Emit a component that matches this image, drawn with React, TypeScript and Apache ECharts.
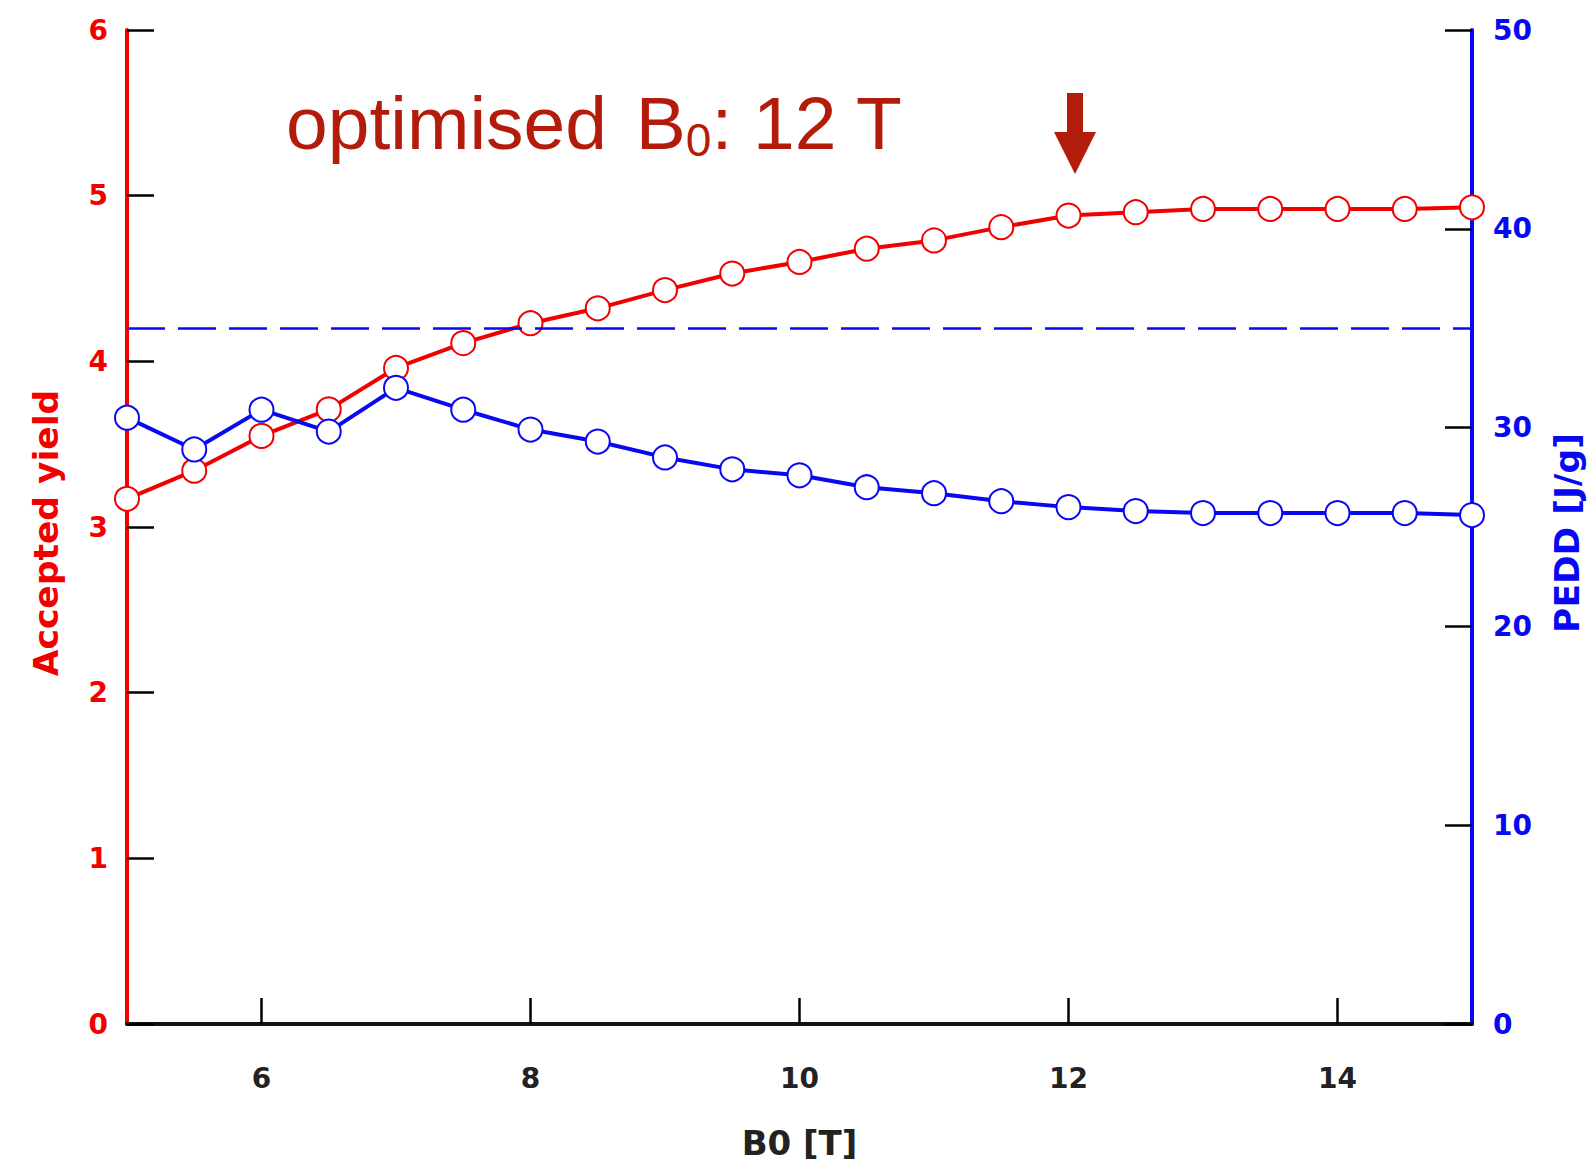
import React, { useEffect, useRef } from "react";
import * as echarts from "echarts";

const bField = [5, 5.5, 6, 6.5, 7, 7.5, 8, 8.5, 9, 9.5, 10, 10.5, 11, 11.5, 12, 12.5, 13, 13.5, 14, 14.5, 15];
const acceptedYield = [3.17, 3.34, 3.55, 3.71, 3.96, 4.11, 4.23, 4.32, 4.43, 4.53, 4.6, 4.68, 4.73, 4.81, 4.88, 4.9, 4.92, 4.92, 4.92, 4.92, 4.93];
const pedd = [30.5, 28.9, 30.9, 29.8, 32.0, 30.9, 29.9, 29.3, 28.5, 27.9, 27.6, 27.0, 26.7, 26.3, 26.0, 25.8, 25.7, 25.7, 25.7, 25.7, 25.6];
const peddLimit = 35;
const xTickValues = [6, 8, 10, 12, 14];

const RED = "#f20000";
const BLUE = "#0808f2";
const DARKRED = "#b31b0b";
const LABEL_FONT = "DejaVu Sans";
const W = 1588;
const H = 1163;

export default function App() {
  const ref = useRef<HTMLDivElement>(null);
  useEffect(() => {
    if (!ref.current) return;
    document.body.style.margin = "0";
    const chart = echarts.init(ref.current, undefined, { renderer: "svg", width: W, height: H });
    const redData = bField.map((x, i) => [x, acceptedYield[i]]);
    const blueData = bField.map((x, i) => [x, pedd[i]]);
    chart.setOption({
      animation: false,
      backgroundColor: "#ffffff",
      title: {
        text: "optimised {b|B}{sub|0}: 12 T",
        left: 286,
        top: 83,
        padding: 0,
        textStyle: {
          fontFamily: "Liberation Sans",
          fontSize: 75,
          fontWeight: "normal",
          color: DARKRED,
          lineHeight: 80,
          rich: {
            b: {
              fontFamily: "Liberation Sans",
              fontSize: 75,
              color: DARKRED,
              lineHeight: 80,
              padding: [0, 0, 0, 8],
            },
            sub: {
              fontFamily: "Liberation Sans",
              fontSize: 46,
              color: DARKRED,
              verticalAlign: "bottom",
              lineHeight: 50,
            },
          },
        },
      },
      grid: { left: 127, right: 116, top: 30, bottom: 139, containLabel: false, outerBoundsMode: "none" },
      xAxis: {
        type: "value",
        min: 5,
        max: 15,
        name: "B0 [T]",
        nameLocation: "middle",
        nameGap: 102,
        nameTextStyle: { fontFamily: LABEL_FONT, fontWeight: "bold", fontSize: 34, color: "#222" },
        axisLine: { show: true, onZero: false, lineStyle: { color: "#111", width: 4 } },
        axisTick: { show: true, inside: true, length: 26, customValues: xTickValues, lineStyle: { color: "#000", width: 2.5 } },
        axisLabel: { show: true, margin: 40, customValues: xTickValues, fontFamily: LABEL_FONT, fontWeight: "bold", fontSize: 28, color: "#222" },
        splitLine: { show: false },
      },
      yAxis: [
        {
          type: "value",
          position: "left",
          min: 0,
          max: 6,
          interval: 1,
          name: "Accepted yield",
          nameLocation: "middle",
          nameRotate: 90,
          nameGap: 64,
          nameTextStyle: { fontFamily: LABEL_FONT, fontWeight: "bold", fontSize: 34.5, color: RED, padding: [0, 12, 0, 0] },
          axisLine: { show: true, onZero: false, lineStyle: { color: RED, width: 4 } },
          axisTick: { show: true, inside: true, length: 27, lineStyle: { color: "#000", width: 2.5 } },
          axisLabel: { margin: 19, fontFamily: LABEL_FONT, fontWeight: "bold", fontSize: 28, color: RED },
          splitLine: { show: false },
        },
        {
          type: "value",
          position: "right",
          min: 0,
          max: 50,
          interval: 10,
          name: "PEDD [J/g]",
          nameLocation: "middle",
          nameRotate: 90,
          nameGap: 77,
          nameTextStyle: { fontFamily: LABEL_FONT, fontWeight: "bold", fontSize: 34.5, color: BLUE, padding: [0, 12, 0, 0] },
          axisLine: { show: true, onZero: false, lineStyle: { color: BLUE, width: 4 } },
          axisTick: { show: true, inside: true, length: 27, lineStyle: { color: "#000", width: 2.5 } },
          axisLabel: { margin: 21, fontFamily: LABEL_FONT, fontWeight: "bold", fontSize: 28, color: BLUE },
          splitLine: { show: false },
        },
      ],
      series: [
        {
          name: "Accepted yield",
          type: "line",
          yAxisIndex: 0,
          data: redData,
          symbol: "emptyCircle",
          symbolSize: 24,
          lineStyle: { color: RED, width: 4 },
          itemStyle: { color: RED, borderColor: RED, borderWidth: 3.5 },
          z: 3,
        },
        {
          name: "PEDD",
          type: "line",
          yAxisIndex: 1,
          data: blueData,
          symbol: "emptyCircle",
          symbolSize: 24,
          lineStyle: { color: BLUE, width: 4 },
          itemStyle: { color: BLUE, borderColor: BLUE, borderWidth: 3.5 },
          z: 4,
          markLine: {
            silent: true,
            symbol: ["none", "none"],
            label: { show: false },
            lineStyle: { color: BLUE, width: 2.5, type: [38, 13] },
            data: [{ yAxis: peddLimit }],
          },
        },
      ],
      graphic: [
        { type: "rect", shape: { x: 1067, y: 93, width: 16, height: 40 }, style: { fill: DARKRED } },
        { type: "polygon", shape: { points: [[1054, 132], [1096, 132], [1075, 174]] }, style: { fill: DARKRED } },
      ],
    });
    return () => chart.dispose();
  }, []);
  return <div ref={ref} style={{ position: "absolute", left: 0, top: 0, width: W, height: H }} />;
}
